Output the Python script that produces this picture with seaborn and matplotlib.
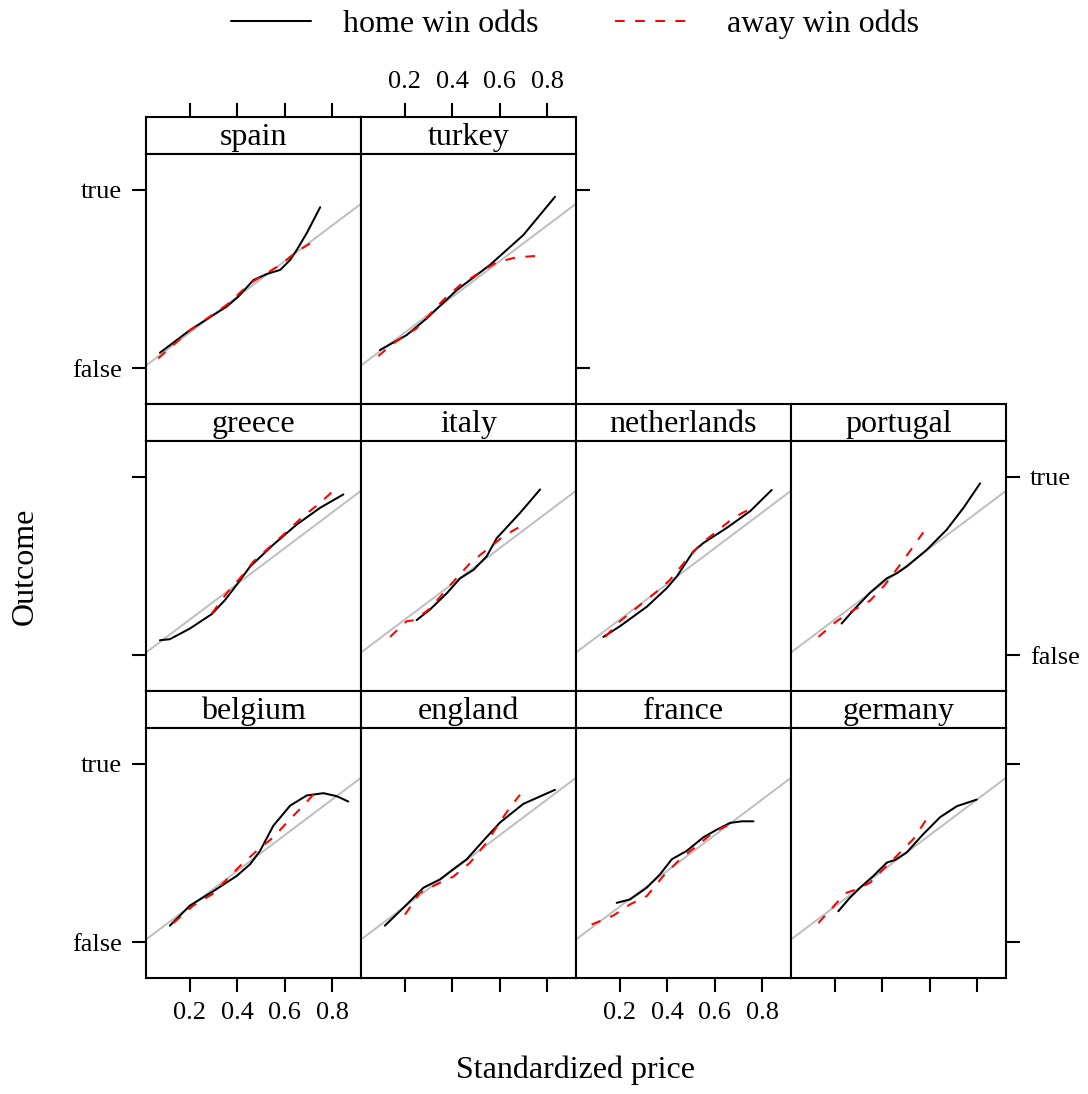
import matplotlib
matplotlib.use("Agg")
import matplotlib.pyplot as plt
from matplotlib.lines import Line2D
import numpy as np
import pandas as pd
import seaborn as sns

sns.set_theme(style="white")
plt.rcParams["font.family"] = ["Liberation Serif", "DejaVu Serif"]
plt.rcParams.update({"text.color": "black", "axes.labelcolor": "black",
                     "xtick.color": "black", "ytick.color": "black"})

# ---- smoothed outcome vs standardized price, one curve per odds type ----
spain_home_x = [0.073, 0.2, 0.299, 0.355, 0.404, 0.468, 0.524, 0.581, 0.623, 0.651, 0.693, 0.750]
spain_home_y = [0.086, 0.213, 0.298, 0.345, 0.401, 0.494, 0.528, 0.551, 0.607, 0.663, 0.757, 0.903]
spain_away_x = [0.066, 0.2, 0.355, 0.454, 0.581, 0.651, 0.736]
spain_away_y = [0.054, 0.213, 0.354, 0.476, 0.579, 0.654, 0.723]

turkey_home_x = [0.094, 0.207, 0.292, 0.419, 0.559, 0.700, 0.834]
turkey_home_y = [0.101, 0.185, 0.279, 0.438, 0.579, 0.747, 0.962]
turkey_away_x = [0.087, 0.151, 0.249, 0.362, 0.433, 0.510, 0.588, 0.672, 0.750]
turkey_away_y = [0.067, 0.139, 0.223, 0.382, 0.466, 0.532, 0.594, 0.622, 0.629]

greece_home_x = [0.073, 0.115, 0.2, 0.292, 0.348, 0.397, 0.454, 0.552, 0.651, 0.750, 0.848]
greece_home_y = [0.083, 0.089, 0.149, 0.230, 0.309, 0.394, 0.497, 0.620, 0.733, 0.827, 0.902]
greece_away_x = [0.292, 0.355, 0.411, 0.468, 0.595, 0.679, 0.750, 0.820]
greece_away_y = [0.233, 0.347, 0.431, 0.525, 0.676, 0.780, 0.855, 0.940]

italy_home_x = [0.249, 0.306, 0.376, 0.433, 0.489, 0.545, 0.588, 0.686, 0.771]
italy_home_y = [0.196, 0.256, 0.346, 0.431, 0.478, 0.554, 0.657, 0.798, 0.930]
italy_away_x = [0.137, 0.207, 0.242, 0.306, 0.404, 0.475, 0.545, 0.616, 0.707]
italy_away_y = [0.102, 0.190, 0.196, 0.262, 0.412, 0.516, 0.591, 0.667, 0.738]

netherlands_home_x = [0.130, 0.2, 0.313, 0.397, 0.440, 0.510, 0.552, 0.651, 0.750, 0.841]
netherlands_home_y = [0.102, 0.162, 0.271, 0.375, 0.441, 0.582, 0.629, 0.714, 0.808, 0.927]
netherlands_away_x = [0.137, 0.2, 0.285, 0.355, 0.411, 0.475, 0.538, 0.609, 0.679, 0.764]
netherlands_away_y = [0.102, 0.190, 0.281, 0.356, 0.422, 0.525, 0.620, 0.695, 0.770, 0.832]

portugal_home_x = [0.228, 0.278, 0.348, 0.419, 0.461, 0.503, 0.588, 0.672, 0.743, 0.813]
portugal_home_y = [0.177, 0.252, 0.350, 0.431, 0.459, 0.497, 0.591, 0.704, 0.827, 0.964]
portugal_away_x = [0.130, 0.207, 0.278, 0.348, 0.411, 0.475, 0.531, 0.573]
portugal_away_y = [0.102, 0.190, 0.252, 0.305, 0.394, 0.507, 0.610, 0.689]

belgium_home_x = [0.115, 0.2, 0.299, 0.397, 0.454, 0.496, 0.552, 0.623, 0.693, 0.764, 0.820, 0.869]
belgium_home_y = [0.092, 0.205, 0.286, 0.371, 0.437, 0.512, 0.653, 0.766, 0.823, 0.836, 0.819, 0.789]
belgium_away_x = [0.130, 0.214, 0.299, 0.411, 0.482, 0.552, 0.623, 0.679, 0.736]
belgium_away_y = [0.107, 0.205, 0.273, 0.427, 0.512, 0.588, 0.691, 0.766, 0.851]

england_home_x = [0.115, 0.193, 0.278, 0.348, 0.404, 0.461, 0.531, 0.602, 0.700, 0.834]
england_home_y = [0.092, 0.192, 0.305, 0.352, 0.409, 0.465, 0.569, 0.672, 0.776, 0.855]
england_away_x = [0.2, 0.263, 0.348, 0.404, 0.475, 0.545, 0.595, 0.644, 0.686]
england_away_y = [0.154, 0.277, 0.333, 0.367, 0.446, 0.559, 0.663, 0.757, 0.827]

france_home_x = [0.186, 0.242, 0.313, 0.369, 0.419, 0.482, 0.552, 0.609, 0.665, 0.715, 0.764]
france_home_y = [0.220, 0.239, 0.305, 0.380, 0.465, 0.512, 0.588, 0.631, 0.669, 0.678, 0.678]
france_away_x = [0.080, 0.172, 0.242, 0.313, 0.383, 0.454, 0.524, 0.595, 0.651]
france_away_y = [0.098, 0.149, 0.211, 0.258, 0.371, 0.465, 0.540, 0.616, 0.653]

germany_home_x = [0.214, 0.263, 0.306, 0.362, 0.419, 0.454, 0.503, 0.573, 0.644, 0.715, 0.799]
germany_home_y = [0.173, 0.249, 0.305, 0.371, 0.446, 0.461, 0.503, 0.606, 0.701, 0.763, 0.800]
germany_away_x = [0.130, 0.207, 0.249, 0.292, 0.348, 0.404, 0.461, 0.531, 0.595]
germany_away_y = [0.107, 0.220, 0.277, 0.296, 0.333, 0.409, 0.484, 0.578, 0.706]

series_names = ["home win odds", "away win odds"]
x_ticks = [0.2, 0.4, 0.6, 0.8]
x_tick_labels = ["0.2", "0.4", "0.6", "0.8"]
y_ticks = [0, 1]
y_tick_labels = ["false", "true"]

curves = {
    "spain": (spain_home_x, spain_home_y, spain_away_x, spain_away_y),
    "turkey": (turkey_home_x, turkey_home_y, turkey_away_x, turkey_away_y),
    "greece": (greece_home_x, greece_home_y, greece_away_x, greece_away_y),
    "italy": (italy_home_x, italy_home_y, italy_away_x, italy_away_y),
    "netherlands": (netherlands_home_x, netherlands_home_y, netherlands_away_x, netherlands_away_y),
    "portugal": (portugal_home_x, portugal_home_y, portugal_away_x, portugal_away_y),
    "belgium": (belgium_home_x, belgium_home_y, belgium_away_x, belgium_away_y),
    "england": (england_home_x, england_home_y, england_away_x, england_away_y),
    "france": (france_home_x, france_home_y, france_away_x, france_away_y),
    "germany": (germany_home_x, germany_home_y, germany_away_x, germany_away_y),
}

rows = []
for country, (hx, hy, ax_, ay) in curves.items():
    for i, (px, py) in enumerate(zip(hx, hy)):
        rows.append((country, series_names[0], i, px, py))
    for i, (px, py) in enumerate(zip(ax_, ay)):
        rows.append((country, series_names[1], i, px, py))
df = pd.DataFrame(rows, columns=["country", "series", "order", "price", "outcome"])

# ---- layout (pixel geometry of the lattice) ----
W, H = 1088, 1094
fig = plt.figure(figsize=(W / 100, H / 100), dpi=100)

col_left = [146, 361, 576, 791]
panel_w = 215
row_strip_top = [117, 404, 691]
strip_h = 37
panel_h = 250

layout = [
    ["spain", "turkey", None, None],
    ["greece", "italy", "netherlands", "portugal"],
    ["belgium", "england", "france", "germany"],
]

XLIM = (0.0141, 0.9225)
YLIM = (-0.202, 1.202)
LW_BOX = 1.5
LW_CURVE = 1.45
TICK_LEN = 10.2
FS_TICK = 19
FS_STRIP = 23
RED = "#FF0000"
palette = {series_names[0]: "black", series_names[1]: RED}
dashes = {series_names[0]: "", series_names[1]: (4.8, 5.2)}


def frac_rect(left, top, w, h):
    return [left / W, 1 - (top + h) / H, w / W, h / H]


def style_box(ax):
    for s in ax.spines.values():
        s.set_visible(True)
        s.set_color("black")
        s.set_linewidth(LW_BOX)


panels = {}
for r, row in enumerate(layout):
    for c, country in enumerate(row):
        if country is None:
            continue
        top = row_strip_top[r]
        sax = fig.add_axes(frac_rect(col_left[c], top, panel_w, strip_h))
        pax = fig.add_axes(frac_rect(col_left[c], top + strip_h, panel_w, panel_h))
        panels[(r, c)] = (sax, pax)

        # strip
        sax.set_xlim(XLIM)
        sax.set_ylim(0, 1)
        sax.set_facecolor("white")
        style_box(sax)
        sax.text(0.5, 0.45, country, transform=sax.transAxes, ha="center", va="center",
                 fontsize=FS_STRIP)
        sax.set_yticks([])
        sax.set_xticks([])

        # panel
        style_box(pax)
        pax.set_facecolor("white")
        pax.axline((0, 0), slope=1, color="#bebebe", lw=1.4, zorder=1)
        sub = df[df["country"] == country]
        sns.lineplot(data=sub, x="price", y="outcome", hue="series", style="series",
                     units="series", estimator=None, sort=False, palette=palette,
                     dashes=dashes, lw=LW_CURVE, legend=False, ax=pax, zorder=3)
        pax.set_xlim(XLIM)
        pax.set_ylim(YLIM)
        pax.set_xlabel("")
        pax.set_ylabel("")
        pax.set_xticks([])
        pax.set_yticks([])
        pax.grid(False)

tick_kw = dict(direction="out", length=TICK_LEN, width=LW_BOX, color="black",
               labelsize=FS_TICK, labelcolor="black", pad=7)

# bottom x axes (row 3): labels on columns 1 and 3
for c in range(4):
    pax = panels[(2, c)][1]
    pax.set_xticks(x_ticks)
    pax.set_xticklabels(x_tick_labels if c in (0, 2) else [""] * 4)
    pax.tick_params(axis="x", bottom=True, top=False, **tick_kw)

# top x axes (row 1 strips): labels on column 2
for c in range(2):
    sax = panels[(0, c)][0]
    sax.set_xticks(x_ticks)
    sax.set_xticklabels(x_tick_labels if c == 1 else [""] * 4)
    sax.tick_params(axis="x", bottom=False, top=True, labelbottom=False,
                    labeltop=True, **tick_kw)

# left y axes: labels on rows 1 and 3
for r in range(3):
    pax = panels[(r, 0)][1]
    pax.set_yticks(y_ticks)
    pax.set_yticklabels(y_tick_labels if r in (0, 2) else ["", ""])
    pax.tick_params(axis="y", left=True, right=False, **tick_kw)

# right y axes: labels on row 2
for r, c in [(0, 1), (1, 3), (2, 3)]:
    pax = panels[(r, c)][1]
    pax.set_yticks(y_ticks)
    pax.set_yticklabels(y_tick_labels if r == 1 else ["", ""])
    pax.tick_params(axis="y", left=False, right=True, labelleft=False,
                    labelright=True, **tick_kw)

fig.text(576 / W, 1 - 1070 / H, "Standardized price", ha="center", va="center",
         fontsize=FS_STRIP)
fig.text(25 / W, 1 - 566 / H, "Outcome", ha="center", va="center", rotation=90,
         fontsize=FS_STRIP)

handles = [Line2D([], [], color="black", lw=LW_CURVE),
           Line2D([], [], color=RED, lw=LW_CURVE, ls=(0, (4.8, 5.2)))]
fig.legend(handles, series_names, loc="center", bbox_to_anchor=(575 / W, 1 - 24 / H),
           ncol=2, frameon=False, fontsize=FS_STRIP, handlelength=2.5,
           handletextpad=1.0, columnspacing=2.4)

fig.savefig("out.png", dpi=100, facecolor="white")
